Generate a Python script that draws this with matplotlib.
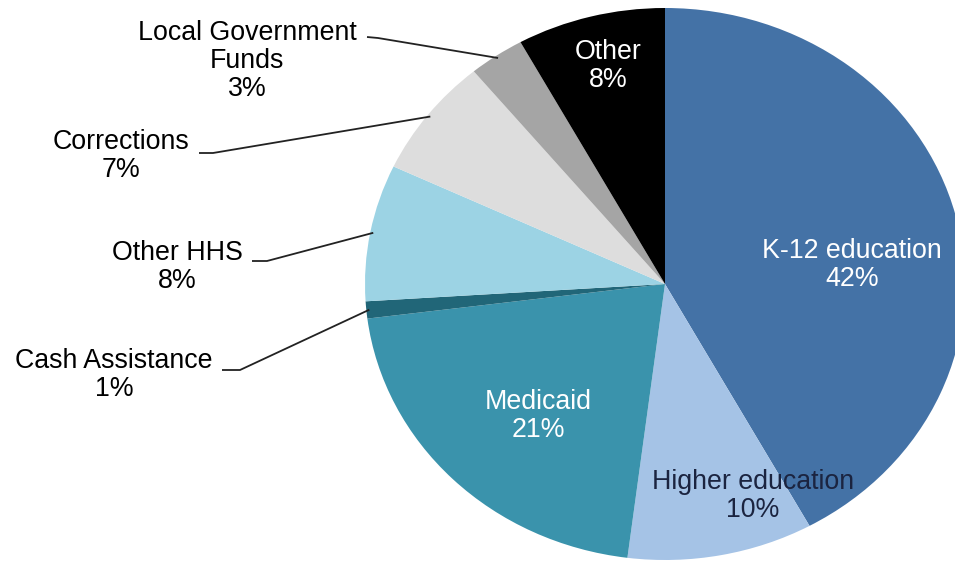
"""
State general fund spending by category, pie chart recreation.
"""
import numpy as np
import matplotlib
matplotlib.use("Agg")
import matplotlib.pyplot as plt

plt.rcParams["font.family"] = ["Liberation Sans", "DejaVu Sans"]

# ---- data (clockwise from 12 o'clock) ----
categories = ["K-12 education", "Higher education", "Medicaid", "Cash Assistance",
              "Other HHS", "Corrections", "Local Government\nFunds", "Other"]
shares = [42, 10, 21, 1, 8, 7, 3, 8]
colors = ["#4472A6", "#A5C3E6", "#3A93AC", "#216678",
          "#9CD3E4", "#DDDDDD", "#A5A5A5", "#000000"]
inside = [True, True, True, False, False, False, False, True]
text_colors = ["white", "#1B2440", "white", "black",
               "black", "black", "black", "white"]

# layout, in reference-image pixels (x from left, y from top)
W, H = 955, 566
CX, CY = 665, 284          # pie centre
RX, RY = 300, 276          # the pie is a little stretched sideways
label_pos = [(852, 265), (753, 496), (538, 416), (114, 375),
             (177, 267), (121, 156), (247, 61), (608, 66)]
stub_pos = [None, None, None, ((222, 370), (240, 370)), ((252, 261), (267, 261)),
            ((199, 153), (213, 153)), ((367, 37), (378, 38)), None]


def px(x, y):
    """pixel position in the reference -> pie data coordinates"""
    return (x - CX) / RX, (CY - y) / RY


fig = plt.figure(figsize=(W / 100, H / 100), dpi=100)
ax = fig.add_axes([0, 0, 1, 1])
wedges, _ = ax.pie(shares, colors=colors, startangle=90, counterclock=False,
                   wedgeprops=dict(linewidth=0))
ax.set_aspect("auto")
ax.set_xlim(-CX / RX, (W - CX) / RX)
ax.set_ylim((CY - H) / RY, CY / RY)
ax.axis("off")

for i, w in enumerate(wedges):
    label = f"{categories[i]}\n{shares[i]}%"
    lx, ly = px(*label_pos[i])
    ax.text(lx, ly, label, ha="center", va="center", fontsize=19.3,
            color=text_colors[i], multialignment="center", linespacing=1.1)
    if not inside[i]:
        theta = np.deg2rad((w.theta1 + w.theta2) / 2)
        ex, ey = 0.99 * np.cos(theta), 0.99 * np.sin(theta)
        (s0, s1) = stub_pos[i]
        x0, y0 = px(*s0)
        x1, y1 = px(*s1)
        ax.plot([x0, x1, ex], [y0, y1, ey], color="#222222", lw=1.3,
                solid_capstyle="butt")

fig.savefig("out.png", dpi=100)
